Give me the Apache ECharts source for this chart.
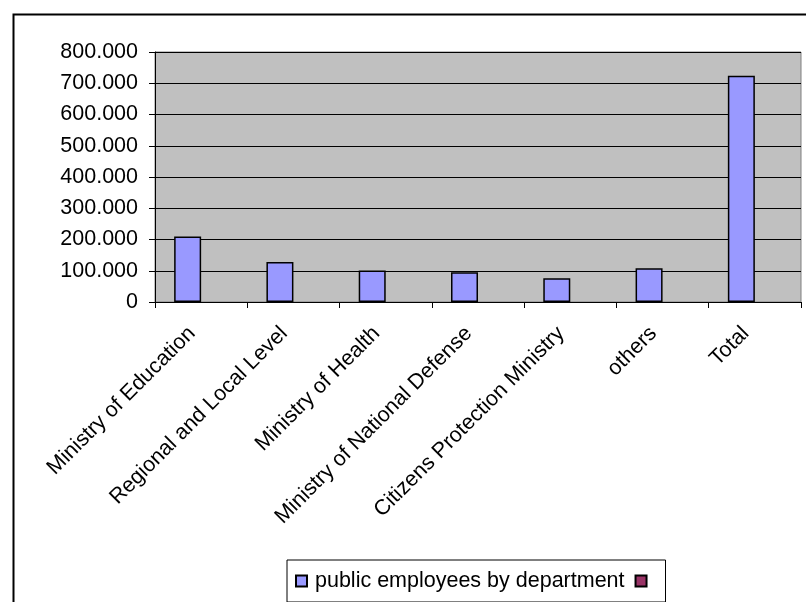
<!DOCTYPE html>
<html>
<head>
<meta charset="utf-8">
<script src="https://cdn.jsdelivr.net/npm/echarts@6/dist/echarts.min.js"></script>
<style>
  html, body { margin: 0; padding: 0; background: #ffffff; }
  #chart { width: 806px; height: 602px; }
</style>
</head>
<body>
<div id="chart"></div>
<script>
// Public employees per department
const categories = [
  'Ministry of Education',
  'Regional and Local Level',
  'Ministry of Health',
  'Ministry of National Defense',
  'Citizens Protection Ministry',
  'others',
  'Total'
];
const employees = [210000, 128000, 101000, 95000, 76000, 108000, 724000];
// Second series has a legend entry but no values
const secondSeries = [null, null, null, null, null, null, null];
const seriesNames = ['public employees by department', ' '];

const FONT = 'Arial, "Liberation Sans", sans-serif';
const FONT_SIZE = 21.5;

// European-style thousands separator: 100000 -> "100.000"
function fmtThousands(v) {
  return String(Math.round(v)).replace(/\B(?=(\d{3})+(?!\d))/g, '.');
}

const chart = echarts.init(document.getElementById('chart'), null, { renderer: 'canvas' });

chart.setOption({
  animation: false,
  backgroundColor: '#ffffff',
  textStyle: { fontFamily: FONT },
  graphic: [{
    type: 'rect',
    left: 11, top: 12,
    shape: { x: 0, y: 0, width: 810, height: 610 },
    style: { fill: 'none', stroke: '#000000', lineWidth: 2 },
    silent: true,
    z: -1
  }],
  grid: {
    left: 155, top: 52, right: 5, bottom: 300,
    show: true,
    backgroundColor: '#c0c0c0',
    borderColor: '#808080',
    borderWidth: 1
  },
  legend: {
    data: seriesNames,
    left: 287, top: 560,
    padding: [10, 5, 10, 8],
    itemGap: 10,
    itemWidth: 11, itemHeight: 11,
    icon: 'rect',
    borderColor: '#000000',
    borderWidth: 1,
    backgroundColor: '#ffffff',
    textStyle: { fontFamily: FONT, fontSize: FONT_SIZE, color: '#000000', padding: [0, 0, 0, 3] }
  },
  xAxis: {
    type: 'category',
    data: categories,
    axisLine: { show: true, lineStyle: { color: '#000000', width: 1 } },
    axisTick: { show: true, length: 6, inside: false, lineStyle: { color: '#000000' } },
    axisLabel: {
      interval: 0, rotate: 45, margin: 19,
      padding: [0, 13, 0, 0],
      fontFamily: FONT, fontSize: FONT_SIZE, color: '#000000'
    },
    splitLine: { show: false }
  },
  yAxis: {
    type: 'value',
    min: 0, max: 800000, interval: 100000,
    axisLine: { show: true, lineStyle: { color: '#000000', width: 1 } },
    axisTick: { show: true, length: 6, inside: false, lineStyle: { color: '#000000' } },
    axisLabel: {
      margin: 17,
      fontFamily: FONT, fontSize: FONT_SIZE, color: '#000000',
      formatter: fmtThousands
    },
    splitLine: { show: true, lineStyle: { color: '#000000', width: 1 } }
  },
  series: [
    {
      name: seriesNames[0],
      type: 'bar',
      data: employees,
      barWidth: 27,
      barGap: '0%',
      itemStyle: { color: '#9999ff', borderColor: '#000000', borderWidth: 1.5 }
    },
    {
      name: seriesNames[1],
      type: 'bar',
      data: secondSeries,
      barWidth: 27,
      itemStyle: { color: '#993366', borderColor: '#000000', borderWidth: 1.5 }
    }
  ]
});
</script>
</body>
</html>
